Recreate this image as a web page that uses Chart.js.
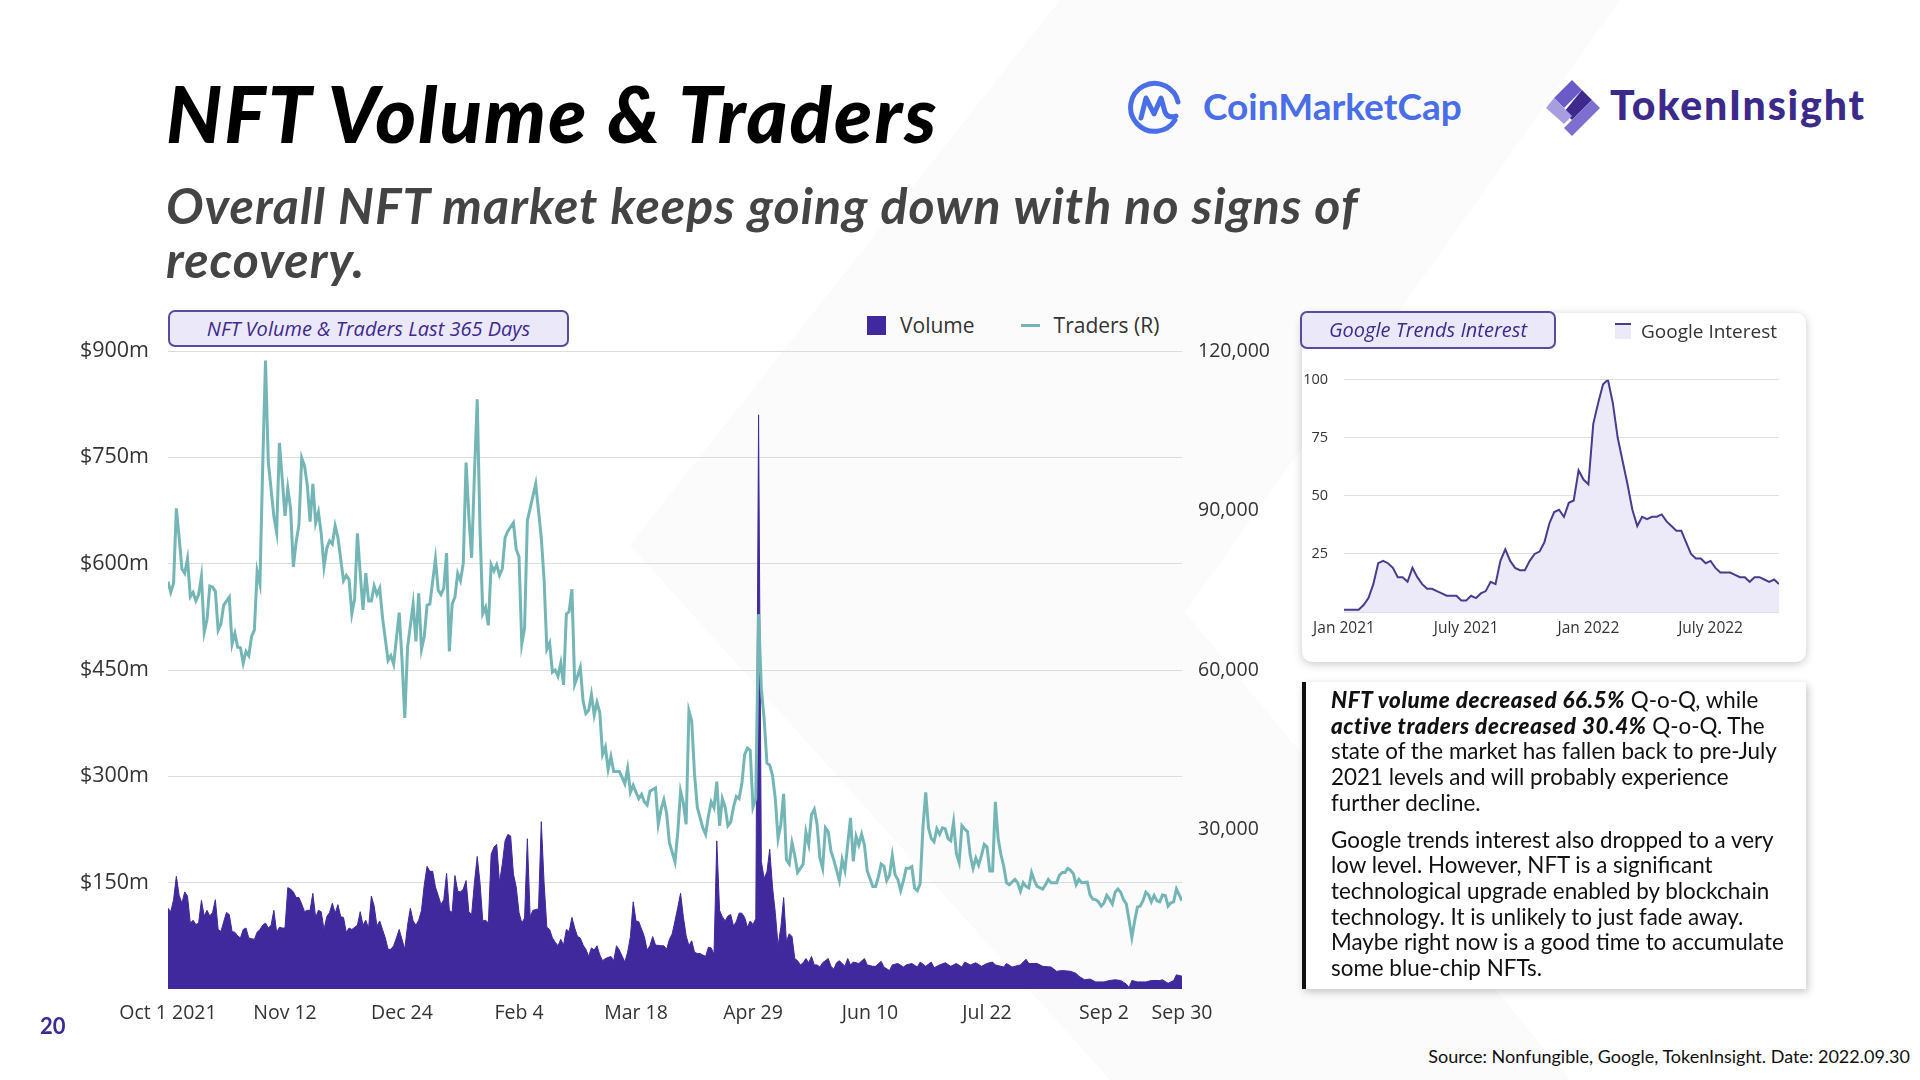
<!DOCTYPE html>
<html>
<head>
<meta charset="utf-8">
<script src="https://cdn.jsdelivr.net/npm/chart.js@4.4.0/dist/chart.umd.min.js"></script>
<style>
  body { margin: 0; width: 1920px; height: 1080px; position: relative; background: #fff; overflow: hidden; font-family: Lato, sans-serif; }
  .abs { position: absolute; }
  .bg { position: absolute; left: 0; top: 0; }
  h1 { position: absolute; left: 166px; top: 66px; margin: 0; font: italic 900 78px Lato, sans-serif; color: #000; letter-spacing: 2.1px; }
  h2 { position: absolute; left: 166px; top: 178px; margin: 0; font: italic 700 50px/54px Lato, sans-serif; color: #444; letter-spacing: 1.1px; width: 1400px; }
  .badge { position: absolute; background: #ebe8fa; border: 2px solid #5a4a9e; border-radius: 7px; box-sizing: border-box;
    font: italic 400 20px "Open Sans", sans-serif; color: #3d2a8c; text-align: center; }
  .legend { position: absolute; display: flex; align-items: center; font: 400 21px "Open Sans", sans-serif; color: #333; }
  .card { position: absolute; background: #fff; border-radius: 10px; box-shadow: 0 2px 10px rgba(0,0,0,0.22); }
  .note { position: absolute; left: 1302px; top: 682px; width: 504px; height: 307px; background: #fff;
    box-shadow: 2px 3px 8px rgba(0,0,0,0.22); border-left: 4px solid #111; box-sizing: border-box;
    padding: 5px 0 0 25px; font: 400 22.4px/25.7px Lato, sans-serif; color: #111; white-space: nowrap; }
  .note p { margin: 0 0 11px 0; }
  .note b { font-weight: 900; letter-spacing: 0.6px; }
</style>
</head>
<body>
<svg class="bg" width="1920" height="1080">
  <polygon points="1060,0 630,545 1110,1080 1570,1080 1185,612 1620,0" fill="#fbfbfc"/>
</svg>

<h1>NFT Volume &amp; Traders</h1>
<h2>Overall NFT market keeps going down with no signs of<br>recovery.</h2>

<!-- logos -->
<svg class="abs" style="left:1126px;top:78px" width="60" height="60" viewBox="0 0 60 60">
  <path d="M49 42 A24 24 0 1 1 52 24" fill="none" stroke="#4a6ee8" stroke-width="5" stroke-linecap="round"/>
  <path d="M15 40 L20 20 L28 36 L35 20 L39 34 Q42 41 50 38" fill="none" stroke="#4a6ee8" stroke-width="5" stroke-linejoin="round" stroke-linecap="round"/>
</svg>
<div class="abs" style="left:1203px;top:83px;font:700 37px Lato,sans-serif;color:#4a6ee8;">CoinMarketCap</div>
<svg class="abs" style="left:1542px;top:78px" width="60" height="60" viewBox="0 0 60 60">
  <polygon points="30,2 40,12 22,30 12,20" fill="#6a5bc8"/>
  <polygon points="40,12 50,22 30,42 22,34" fill="#3d2a8c"/>
  <polygon points="12,20 22,30 30,38 22,46 4,30" fill="#a79ee0"/>
  <polygon points="50,22 58,30 30,58 22,50 30,42" fill="#7c6fd0"/>
</svg>
<div class="abs" style="left:1610px;top:80px;font:900 41px Lato,sans-serif;color:#3b2a8a;letter-spacing:1.8px;">TokenInsight</div>

<!-- main chart -->
<div class="badge" style="left:168px;top:310px;width:401px;height:37px;line-height:33px;">NFT Volume &amp; Traders Last 365 Days</div>
<div id="mainLegend" class="legend" style="left:867px;top:311px;"></div>
<div class="abs" style="left:60px;top:300px;width:1240px;height:740px;">
  <canvas id="mainChart" width="1240" height="740"></canvas>
</div>

<!-- google trends card -->
<div class="card" style="left:1302px;top:313px;width:504px;height:349px;"></div>
<div class="badge" style="left:1300px;top:311px;width:256px;height:38px;line-height:34px;">Google Trends Interest</div>
<div id="trendLegend" class="legend" style="left:1615px;top:318px;font-size:19px;"></div>
<div class="abs" style="left:1302px;top:355px;width:504px;height:290px;">
  <canvas id="trendChart" width="504" height="290"></canvas>
</div>

<!-- commentary -->
<div class="note">
  <p><b><i>NFT volume decreased 66.5%</i></b> Q-o-Q, while<br><b><i>active traders decreased 30.4%</i></b> Q-o-Q. The<br>state of the market has fallen back to pre-July<br>2021 levels and will probably experience<br>further decline.</p>
  <p>Google trends interest also dropped to a very<br>low level. However, NFT is a significant<br>technological upgrade enabled by blockchain<br>technology. It is unlikely to just fade away.<br>Maybe right now is a good time to accumulate<br>some blue-chip NFTs.</p>
</div>

<div class="abs" style="left:40px;top:1012px;font:700 22px Lato,sans-serif;color:#3a2b95;">20</div>
<div class="abs" style="right:10px;top:1045px;font:400 18px Lato,sans-serif;color:#111;">Source: Nonfungible, Google, TokenInsight. Date: 2022.09.30</div>

<script>
// days since Oct 1 2021
const xTickDays = [0, 42, 84, 126, 168, 210, 252, 294, 336, 364];
const xTickLabels = ["Oct 1 2021", "Nov 12", "Dec 24", "Feb 4", "Mar 18", "Apr 29", "Jun 10", "Jul 22", "Sep 2", "Sep 30"];

// daily NFT volume, $m
const volumeDays = [0,1,2,3,4,5,6,7,8,9,10,11,12,13,14,15,16,17,18,19,20,21,22,23,24,25,26,27,28,29,30,31,32,33,34,35,36,37,38,39,40,41,42,43,44,45,46,47,48,49,50,51,52,53,54,55,56,57,58,59,60,61,62,63,64,65,66,67,68,69,70,71,72,73,74,75,76,77,78,79,80,81,82,83,85,86,87,88,89,90,91,92,93,94,95,96,97,98,99,100,101,102,103,104,105,106,107,108,109,110,111,112,113,114,115,116,117,118,119,120,121,122,123,124,125,126,127,128,129,130,131,133,134,135,136,137,138,139,140,141,142,143,144,145,146,147,148,149,150,151,152,153,154,155,156,157,159,160,161,162,164,165,166,167,168,169,171,172,173,174,175,177,178,179,180,181,182,183,184,185,186,187,188,189,190,191,192,193,194,195,196,197,198,199,200,201,202,203,204,205,206,207,208,209,210,211,212,213,214,215,216,217,218,219,220,221,222,223,224,225,226,227,228,229,230,231,232,233,234,235,237,238,239,240,241,243,244,245,246,248,250,251,253,254,256,257,259,260,262,264,265,267,269,270,272,274,275,277,279,281,283,285,286,288,290,292,294,296,297,300,301,303,306,308,309,312,314,317,319,321,324,326,327,329,331,333,336,338,340,342,344,345,346,348,351,353,356,357,359,361,362,364];
const volumeValues = [114,109,126,159,132,121,137,131,93,97,91,93,125,103,111,103,108,126,84,81,95,108,105,81,80,75,72,84,86,72,71,70,80,84,90,93,86,90,111,80,87,86,86,143,141,137,129,129,120,109,111,111,135,101,111,109,84,102,108,121,107,119,102,101,80,86,84,87,90,109,90,97,86,131,117,89,96,84,72,56,56,61,72,84,56,90,114,96,90,97,111,147,173,166,166,144,132,119,126,163,111,108,160,138,137,141,153,109,105,150,187,150,96,97,93,190,200,204,150,176,209,218,216,162,144,108,93,100,212,102,111,113,236,150,87,84,72,66,61,70,62,84,81,101,86,74,72,62,56,46,58,55,61,48,40,43,46,40,61,55,38,52,74,123,96,95,74,55,61,74,62,61,61,56,70,78,96,115,135,102,75,61,68,52,50,50,48,46,59,58,49,209,111,102,96,103,105,89,95,107,107,101,87,96,91,99,810,180,156,165,197,144,108,61,87,129,67,78,74,43,40,34,37,43,37,46,34,34,31,37,43,32,28,37,40,32,43,34,38,36,43,34,32,32,39,31,26,34,36,31,34,36,31,38,32,38,30,34,37,32,36,31,38,34,37,32,36,38,34,31,36,31,34,42,36,36,32,31,25,26,25,22,18,13,14,10,10,12,13,12,7,2,12,10,10,12,12,13,8,12,20,18];

// daily active traders
const traderDays = [0,1,2,3,4,5,6,7,8,9,10,11,12,13,14,15,16,17,18,19,20,22,23,24,25,26,27,28,29,30,31,32,33,34,35,36,38,39,40,41,42,43,44,45,46,47,48,49,50,51,52,53,54,55,56,57,58,59,60,61,63,64,65,66,67,68,69,70,71,72,73,74,75,76,77,79,80,81,83,84,85,86,88,89,90,91,92,93,94,96,97,98,99,100,101,102,103,104,105,106,107,108,109,110,111,112,113,114,115,116,117,118,119,120,121,122,124,125,126,127,128,129,130,132,134,135,136,137,138,139,140,141,142,143,144,145,146,147,148,149,150,151,152,153,154,155,156,157,158,159,160,162,163,164,165,166,167,168,169,170,171,172,173,175,176,177,178,179,180,182,183,184,185,186,187,188,189,190,192,193,194,195,196,197,198,199,200,201,202,203,204,205,206,207,208,209,210,211,212,213,214,215,216,217,218,219,220,221,222,223,224,225,226,227,228,229,230,231,232,233,234,235,236,237,238,239,241,242,243,245,246,247,248,249,250,251,252,253,254,255,256,257,258,259,260,261,262,263,264,265,266,267,268,269,270,271,272,273,274,275,276,277,278,279,280,281,282,283,284,285,286,287,288,289,290,291,292,293,294,295,296,297,298,299,300,301,302,304,305,306,307,308,309,310,311,312,314,315,316,317,319,320,321,322,323,324,325,326,327,328,330,331,332,333,334,335,336,337,338,339,340,341,342,343,344,345,346,347,348,349,350,351,352,353,354,355,356,357,358,359,360,361,362,363,364];
const traderValues = [76600,74600,76300,90400,84900,79000,78200,80900,73800,74600,73000,74200,77600,67100,69500,75800,75600,74800,67500,68700,72200,73700,64900,66900,64300,64200,61300,63500,62700,66300,67500,78600,76200,98400,118200,99200,88900,85900,102700,96000,89000,94200,90400,79400,84100,87300,99900,98400,94800,87900,95000,87700,89700,85700,79400,82900,84300,83700,87100,84900,76800,77800,77000,70600,73400,85700,78200,71300,78200,73000,73000,75800,74200,75400,69900,61800,62700,61100,70800,61900,51000,64300,72400,65400,74400,63900,66300,72200,72400,80900,75000,74200,75400,82000,63500,72400,73700,78200,76800,80100,99000,88900,81100,96800,110900,86500,70600,71800,68400,79800,78600,79800,77800,79000,84900,86100,87700,82700,81300,64900,67900,88100,90400,95000,84900,77000,63900,65100,59600,60000,58800,61300,57200,70500,71000,75200,57300,58800,60500,54200,51800,52400,55400,51500,53900,52000,44100,45500,41300,43700,40900,40900,39800,38600,41500,37000,38300,37000,35800,36600,35200,34600,37200,37800,31000,33800,35600,33000,27500,23900,29500,37200,35000,31000,52300,50400,40500,34200,30300,29100,32600,35200,34100,39000,30700,35800,34200,30700,31400,34200,36200,35800,38600,44100,45300,44900,34200,35800,70500,56400,50800,42500,42100,40200,35800,28300,31000,36700,24300,23500,27500,25100,21900,22700,23500,29500,27200,32800,33800,31000,24700,22700,30300,29600,25900,24300,20400,24300,22300,32200,24000,28700,27100,29100,27100,22200,20800,19300,19300,21100,23500,23100,20400,21400,25100,21500,20600,18500,20400,22700,22700,23000,19000,18500,19800,30300,37000,30300,28300,27700,30100,29100,30300,30100,28300,27900,31400,25500,23800,30700,30100,29600,25100,22700,24600,23300,25100,27200,26700,22200,22200,35200,28300,25300,23100,20000,19600,20600,20000,18400,20000,19300,19000,21900,20400,19300,18800,19600,20600,20000,20000,21400,21900,21900,22700,22300,21700,19600,20600,20000,20100,17700,16900,16800,16400,15600,16200,17600,16900,16000,18200,18800,18200,16800,16000,13000,9700,12800,15400,15600,16600,18200,17700,16400,17600,16600,16400,17700,17600,15600,16200,16400,18800,17700,16600];

// weekly google interest, Jan 2021 onwards
const trendValues = [1,1,1,1,3,6,12,21,22,21,19,15,15,13,19,15,12,10,10,9,8,7,7,7,5,5,7,6,8,9,13,12,22,27,22,19,18,18,22,25,26,30,38,43,44,41,47,48,61,57,55,81,90,98,100,90,75,65,55,44,37,41,40,41,41,42,39,37,35,35,30,25,23,23,21,22,19,17,17,17,16,15,15,13,15,15,14,13,14,12];
const trendTickWeeks = [0, 25, 50, 75];
const trendTickLabels = ["Jan 2021", "July 2021", "Jan 2022", "July 2022"];

const PURPLE = "#40299c";
const TEAL = "#74b6b6";
const AXIS_FONT = "'Open Sans', sans-serif";

function fixedTicks(days) {
  return (scale) => { scale.ticks = days.map((v) => ({ value: v })); };
}

const mainChart = new Chart(document.getElementById("mainChart").getContext("2d"), {
  type: "line",
  data: {
    datasets: [
      {
        label: "Volume",
        data: volumeDays.map((d, i) => ({ x: d, y: volumeValues[i] })),
        yAxisID: "yVol",
        borderColor: PURPLE,
        backgroundColor: PURPLE,
        borderWidth: 1,
        fill: "origin",
        pointRadius: 0,
        tension: 0,
        order: 2,
      },
      {
        label: "Traders (R)",
        data: traderDays.map((d, i) => ({ x: d, y: traderValues[i] })),
        yAxisID: "yTr",
        borderColor: TEAL,
        backgroundColor: TEAL,
        borderWidth: 3,
        fill: false,
        pointRadius: 0,
        tension: 0,
        order: 1,
      },
    ],
  },
  options: {
    responsive: false,
    animation: false,
    layout: { padding: { top: 51, left: 0, right: 0, bottom: 0 } },
    plugins: { legend: { display: false }, tooltip: { enabled: false } },
    scales: {
      x: {
        type: "linear",
        min: 0,
        max: 364,
        afterBuildTicks: fixedTicks(xTickDays),
        afterFit: (s) => { s.height = 51; },
        grid: { display: false, drawTicks: false },
        border: { display: false },
        ticks: {
          autoSkip: false,
          maxRotation: 0,
          padding: 13,
          color: "#333",
          font: { family: AXIS_FONT, size: 19.5 },
          callback: (v) => xTickLabels[xTickDays.indexOf(v)],
        },
      },
      yVol: {
        position: "left",
        min: 0,
        max: 900,
        afterFit: (s) => { s.width = 108; },
        grid: { drawTicks: false, color: (c) => (c.tick.value === 0 ? "rgba(0,0,0,0)" : "#dcdcdc") },
        border: { display: false },
        ticks: {
          stepSize: 150,
          padding: 19,
          color: "#333",
          font: { family: AXIS_FONT, size: 21.5 },
          callback: (v) => (v === 0 ? "" : "$" + v + "m"),
        },
      },
      yTr: {
        position: "right",
        min: 0,
        max: 120000,
        afterFit: (s) => { s.width = 118; },
        grid: { display: false, drawTicks: false },
        border: { display: false },
        ticks: {
          stepSize: 30000,
          padding: 16,
          color: "#333",
          font: { family: AXIS_FONT, size: 19.5 },
          callback: (v) => (v === 0 ? "" : v.toLocaleString("en-US")),
        },
      },
    },
  },
});

const trendChart = new Chart(document.getElementById("trendChart").getContext("2d"), {
  type: "line",
  data: {
    datasets: [
      {
        label: "Google Interest",
        data: trendValues.map((v, i) => ({ x: i, y: v })),
        borderColor: "#4b3b8f",
        backgroundColor: "#ece9f8",
        borderWidth: 2,
        fill: "origin",
        pointRadius: 0,
        tension: 0,
      },
    ],
  },
  options: {
    responsive: false,
    animation: false,
    layout: { padding: { top: 23, right: 27, left: 0, bottom: 0 } },
    plugins: { legend: { display: false }, tooltip: { enabled: false } },
    scales: {
      x: {
        type: "linear",
        min: 0,
        max: trendValues.length - 1,
        afterBuildTicks: fixedTicks(trendTickWeeks),
        afterFit: (s) => { s.height = 33; },
        grid: { display: false, drawTicks: false },
        border: { display: false },
        ticks: {
          autoSkip: false,
          maxRotation: 0,
          padding: 7,
          color: "#333",
          font: { family: AXIS_FONT, size: 15.5 },
          callback: (v) => trendTickLabels[trendTickWeeks.indexOf(v)],
        },
      },
      y: {
        min: 0,
        max: 100,
        afterFit: (s) => { s.width = 42; },
        grid: { drawTicks: false, color: "#e0e0e0" },
        border: { display: false },
        ticks: {
          stepSize: 25,
          padding: 16,
          color: "#333",
          font: { family: AXIS_FONT, size: 14.5 },
          callback: (v) => (v === 0 ? "" : v),
        },
      },
    },
  },
});

// custom legends built from the charts' own labels, in dataset order
function renderLegend(chart, el, marker, gap) {
  const items = chart.options.plugins.legend.labels.generateLabels(chart)
    .sort((a, b) => a.datasetIndex - b.datasetIndex);
  items.forEach((item, i) => {
    const wrap = document.createElement("span");
    wrap.style.display = "flex";
    wrap.style.alignItems = "center";
    wrap.style.marginRight = i < items.length - 1 ? gap + "px" : "0";
    wrap.appendChild(marker(item));
    const txt = document.createElement("span");
    txt.textContent = item.text;
    wrap.appendChild(txt);
    el.appendChild(wrap);
  });
}

renderLegend(mainChart, document.getElementById("mainLegend"), (item) => {
  const m = document.createElement("span");
  m.style.display = "inline-block";
  m.style.marginRight = "14px";
  m.style.width = "19px";
  if (item.datasetIndex === 0) {
    m.style.height = "19px";
    m.style.background = item.fillStyle;
  } else {
    m.style.height = "3px";
    m.style.background = item.strokeStyle;
  }
  return m;
}, 46);

renderLegend(trendChart, document.getElementById("trendLegend"), (item) => {
  const m = document.createElement("span");
  m.style.display = "inline-block";
  m.style.width = "16px";
  m.style.height = "14px";
  m.style.marginRight = "10px";
  m.style.background = item.fillStyle;
  m.style.borderTop = "2px solid " + item.strokeStyle;
  return m;
}, 0);
</script>
</body>
</html>
